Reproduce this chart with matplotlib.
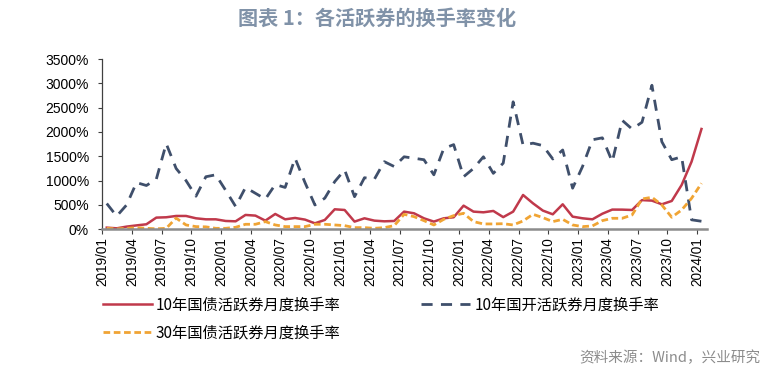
import numpy as np
import pandas as pd
import matplotlib
matplotlib.use("Agg")
import matplotlib.pyplot as plt

plt.rcParams['font.family'] = ['Noto Sans CJK SC', 'DejaVu Sans']

# monthly data 2019/01 - 2024/01, turnover in %
months = pd.date_range("2019-01-01", "2024-01-01", freq="MS")
gz10 = [34, 20, 55, 80, 103, 240, 247, 274, 274, 226,
        205, 205, 171, 164, 295, 281, 178, 315, 205, 233,
        199, 123, 192, 411, 397, 158, 226, 178, 164, 171,
        363, 329, 226, 158, 226, 247, 486, 363, 349, 377,
        250, 363, 705, 534, 384, 308, 514, 260, 226, 205,
        320, 405, 404, 397, 600, 589, 514, 582, 911, 1390,
        2062]
gk10 = [530, 270, 500, 960, 900, 1030, 1760, 1250, 1000, 680,
        1080, 1120, 800, 470, 860, 740, 620, 920, 860, 1460,
        960, 500, 640, 980, 1220, 670, 1060, 1030, 1390, 1290,
        1490, 1460, 1430, 1120, 1660, 1740, 1080, 1250, 1490, 1150,
        1360, 2620, 1730, 1770, 1720, 1445, 1630, 845, 1290, 1840,
        1880, 1390, 2240, 2060, 2200, 2960, 1800, 1430, 1490, 195,
        165]
gz30 = [20, 7, 20, 34, 20, 10, 20, 230, 89, 55,
        50, 20, 20, 41, 103, 103, 158, 89, 55, 55,
        55, 103, 103, 89, 75, 34, 34, 20, 34, 75,
        308, 260, 178, 89, 205, 281, 329, 158, 110, 110,
        115, 89, 171, 308, 240, 158, 205, 89, 55, 69,
        178, 226, 226, 295, 623, 658, 500, 247, 397, 637,
        945]
names = ["10年国债活跃券月度换手率", "10年国开活跃券月度换手率", "30年国债活跃券月度换手率"]
yticks = [0, 500, 1000, 1500, 2000, 2500, 3000, 3500]

x = np.arange(len(months)) + 0.45
tick_pos = np.arange(0, len(months), 3)
tick_lab = [months[i].strftime("%Y/%m") for i in tick_pos]

fig = plt.figure(figsize=(7.82, 3.77), dpi=100)
ax = fig.add_axes([0.1308, 0.3918, 0.904 - 0.1308, 0.8435 - 0.3918])

l1, = ax.plot(x, gz10, color="#C0394B", lw=1.8, label=names[0])
l2, = ax.plot(x, gk10, color="#3F4F6B", lw=2.0, ls=(0, (4, 3)), label=names[1])
l3, = ax.plot(x, gz30, color="#F0A434", lw=2.0, ls=(0, (2.4, 1.3)), label=names[2])

ax.set_xlim(0, 61)
ax.set_ylim(0, 3500)
ax.set_yticks(yticks)
ax.set_yticklabels([f"{v}%" for v in yticks], family="Liberation Sans", fontsize=10)
ax.set_xticks(tick_pos)
ax.set_xticklabels(tick_lab, rotation=90, family="Liberation Sans", fontsize=9.8)

for s in ["top", "right"]:
    ax.spines[s].set_visible(False)
ax.spines["left"].set_color("#404040")
ax.spines["left"].set_linewidth(0.9)
ax.spines["bottom"].set_color("#8c8c8c")
ax.spines["bottom"].set_linewidth(1.8)
ax.tick_params(axis="y", length=3.2, width=0.8, color="#404040", pad=6.5)
ax.tick_params(axis="x", length=3.5, width=0.8, color="#404040", pad=2)

fig.text(0.482, 0.952, "图表 1：各活跃券的换手率变化", ha="center", va="center",
         fontsize=14.5, fontweight="bold", color="#8092a8")

fig.legend(handles=[l1, l3, l2], ncol=2, loc="upper left",
           bbox_to_anchor=(103 / 782, 1 - 296 / 377), frameon=False,
           borderpad=0, borderaxespad=0, handlelength=3.2, handletextpad=0.25,
           columnspacing=5.3, labelspacing=0.75, fontsize=11)

fig.text(0.972, 1 - 358 / 377, "资料来源：Wind，兴业研究", ha="right", va="center",
         fontsize=10.5, color="#8c8c8c")

fig.savefig("out.png", dpi=100)
